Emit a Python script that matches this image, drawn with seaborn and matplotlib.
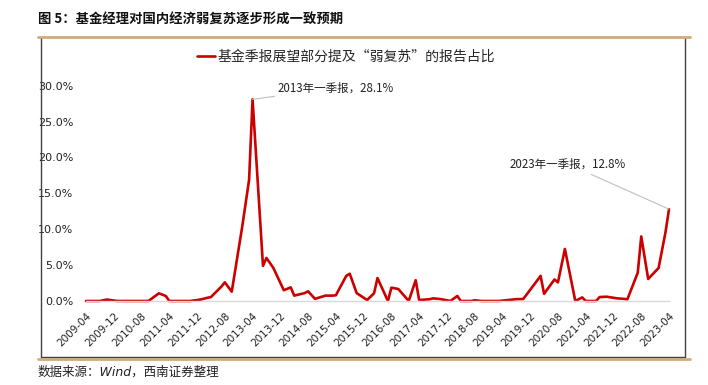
import matplotlib
matplotlib.use("Agg")
import matplotlib.pyplot as plt
from matplotlib.lines import Line2D
import seaborn as sns
import pandas as pd
import numpy as np

# ---- data (report disclosure month, share of reports mentioning "weak recovery", %) ----
dates = ["2009-04", "2009-07", "2009-08", "2009-10",
         "2010-01", "2010-03", "2010-04", "2010-07", "2010-08", "2010-10",
         "2011-01", "2011-03", "2011-04", "2011-07", "2011-08", "2011-10",
         "2012-01", "2012-03", "2012-04", "2012-07", "2012-08", "2012-10",
         "2013-01", "2013-03", "2013-04", "2013-07", "2013-08", "2013-10",
         "2014-01", "2014-03", "2014-04", "2014-07", "2014-08", "2014-10",
         "2015-01", "2015-03", "2015-04", "2015-07", "2015-08", "2015-10",
         "2016-01", "2016-03", "2016-04", "2016-07", "2016-08", "2016-10",
         "2017-01", "2017-03", "2017-04", "2017-07", "2017-08", "2017-10",
         "2018-01", "2018-03", "2018-04", "2018-07", "2018-08", "2018-10",
         "2019-01", "2019-03", "2019-04", "2019-07", "2019-08", "2019-10",
         "2020-01", "2020-03", "2020-04", "2020-07", "2020-08", "2020-10",
         "2021-01", "2021-03", "2021-04", "2021-07", "2021-08", "2021-10",
         "2022-01", "2022-03", "2022-04", "2022-07", "2022-08", "2022-10",
         "2023-01", "2023-03", "2023-04"]
values = [0, 0, 0, 0.2,
          0, 0, 0, 0, 0, 0,
          1.07, 0.7, 0, 0, 0, 0,
          0.2, 0.45, 0.55, 2.0, 2.6, 1.3,
          10.3, 16.9, 28.1, 4.9, 6.0, 4.6,
          1.5, 1.9, 0.75, 1.1, 1.35, 0.3,
          0.75, 0.75, 0.8, 3.5, 3.8, 1.1,
          0.14, 1.07, 3.2, 0, 1.86, 1.67,
          0, 2.9, 0.14, 0.24, 0.37, 0.28,
          0, 0.7, 0, 0, 0.1, 0,
          0, 0, 0.05, 0.2, 0.25, 0.28,
          2.2, 3.5, 1.0, 3.0, 2.6, 7.25,
          0, 0.5, 0, 0, 0.55, 0.6,
          0.37, 0.3, 0.23, 3.95, 9.0, 3.07,
          4.6, 9.6, 12.8]
tick_labels = ["2009-04", "2009-12", "2010-08", "2011-04", "2011-12", "2012-08",
               "2013-04", "2013-12", "2014-08", "2015-04", "2015-12", "2016-08",
               "2017-04", "2017-12", "2018-08", "2019-04", "2019-12", "2020-08",
               "2021-04", "2021-12", "2022-08", "2023-04"]
y_ticks = [0, 5, 10, 15, 20, 25, 30]
series_name = "基金季报展望部分提及“弱复苏”的报告占比"
title = "图 5：基金经理对国内经济弱复苏逐步形成一致预期"
source = "数据来源：Wind，西南证券整理"
ann1 = "2013年一季报，28.1%"
ann2 = "2023年一季报，12.8%"

# ---- build ----
def month_index(s):
    y, m = s.split("-")
    return (int(y) - 2009) * 12 + int(m) - 4

df = pd.DataFrame({"m": [month_index(d) for d in dates], "v": values})
tick_pos = [month_index(t) for t in tick_labels]

sns.set_style("white")
plt.rcParams["font.family"] = ["Noto Sans CJK SC", "DejaVu Sans"]

W, H = 708, 385
fig = plt.figure(figsize=(W / 100, H / 100), dpi=100)
ax = fig.add_axes([86 / W, 1 - 301 / H, (669 - 86) / W, (301 - 85.7) / H])

red = "#CC0000"
sns.lineplot(data=df, x="m", y="v", ax=ax, color=red, linewidth=1.9,
             label=series_name, legend=False)
for l in ax.lines:
    l.set_clip_on(False)

ax.set_xlim(0, 168)
ax.set_ylim(0, 30)
ax.set_xticks(tick_pos)
ax.set_xticklabels(tick_labels, rotation=45, ha="right", rotation_mode="anchor",
                   fontsize=7.5, color="#222222", family=["DejaVu Sans"])
ax.set_yticks(y_ticks)
ax.set_yticklabels([f"{v:.1f}%" for v in y_ticks], fontsize=8, color="#222222",
                   family=["DejaVu Sans"])
ax.tick_params(axis="x", length=4, width=0.8, color="#d9d9d9", pad=3, direction="out")
ax.tick_params(axis="y", length=0, pad=9)
ax.set_xlabel("")
ax.set_ylabel("")
for s in ["top", "right", "left"]:
    ax.spines[s].set_visible(False)
ax.spines["bottom"].set_color("#d9d9d9")
ax.spines["bottom"].set_linewidth(1.0)
ax.grid(False)

# annotations
ax.annotate(ann1, xy=(48, 28.1), xytext=(278 / W, 1 - 88 / H), textcoords="figure fraction",
            ha="left", va="center", fontsize=8.3, color="#222222",
            arrowprops=dict(arrowstyle="-", color="#bfbfbf", lw=0.8,
                            shrinkA=0, shrinkB=0), annotation_clip=False)
ax.annotate(ann2, xy=(168, 12.8), xytext=(626 / W, 1 - 164 / H), textcoords="figure fraction",
            ha="right", va="center", fontsize=8.3, color="#222222",
            arrowprops=dict(arrowstyle="-", color="#bfbfbf", lw=0.8,
                            shrinkA=1, shrinkB=0), annotation_clip=False)

# legend
h, lab = ax.get_legend_handles_labels()
fig.legend(h, lab, loc="center", bbox_to_anchor=(346 / W, 1 - 57 / H),
           frameon=False, fontsize=10, handlelength=1.3, handletextpad=0.2,
           borderaxespad=0)

# title & source
fig.text(38 / W, 1 - 20 / H, title, ha="left", va="center", fontsize=9.6,
         fontweight="bold", color="#111111")
fig.text(38 / W, 1 - 372 / H, source, ha="left", va="center", fontsize=9,
         style="italic", color="#222222", family=["DejaVu Sans", "Noto Sans CJK SC"])

# frame and tan rules
gray = "#404040"
tan = "#d2aa78"
x0, x1 = 41 / W, 685 / W
yt, yb = 1 - 37 / H, 1 - 357 / H
fig.add_artist(Line2D([x0, x0], [yb, yt], color=gray, lw=1.0))
fig.add_artist(Line2D([x1, x1], [yb, yt], color=gray, lw=1.0))
fig.add_artist(Line2D([x0, x1], [yb, yb], color=gray, lw=1.0))
fig.add_artist(Line2D([38 / W, 690 / W], [yt, yt], color=tan, lw=2.0))
fig.add_artist(Line2D([38 / W, 690 / W], [1 - 359 / H, 1 - 359 / H], color=tan, lw=2.0))

fig.savefig("out.png", dpi=100)
